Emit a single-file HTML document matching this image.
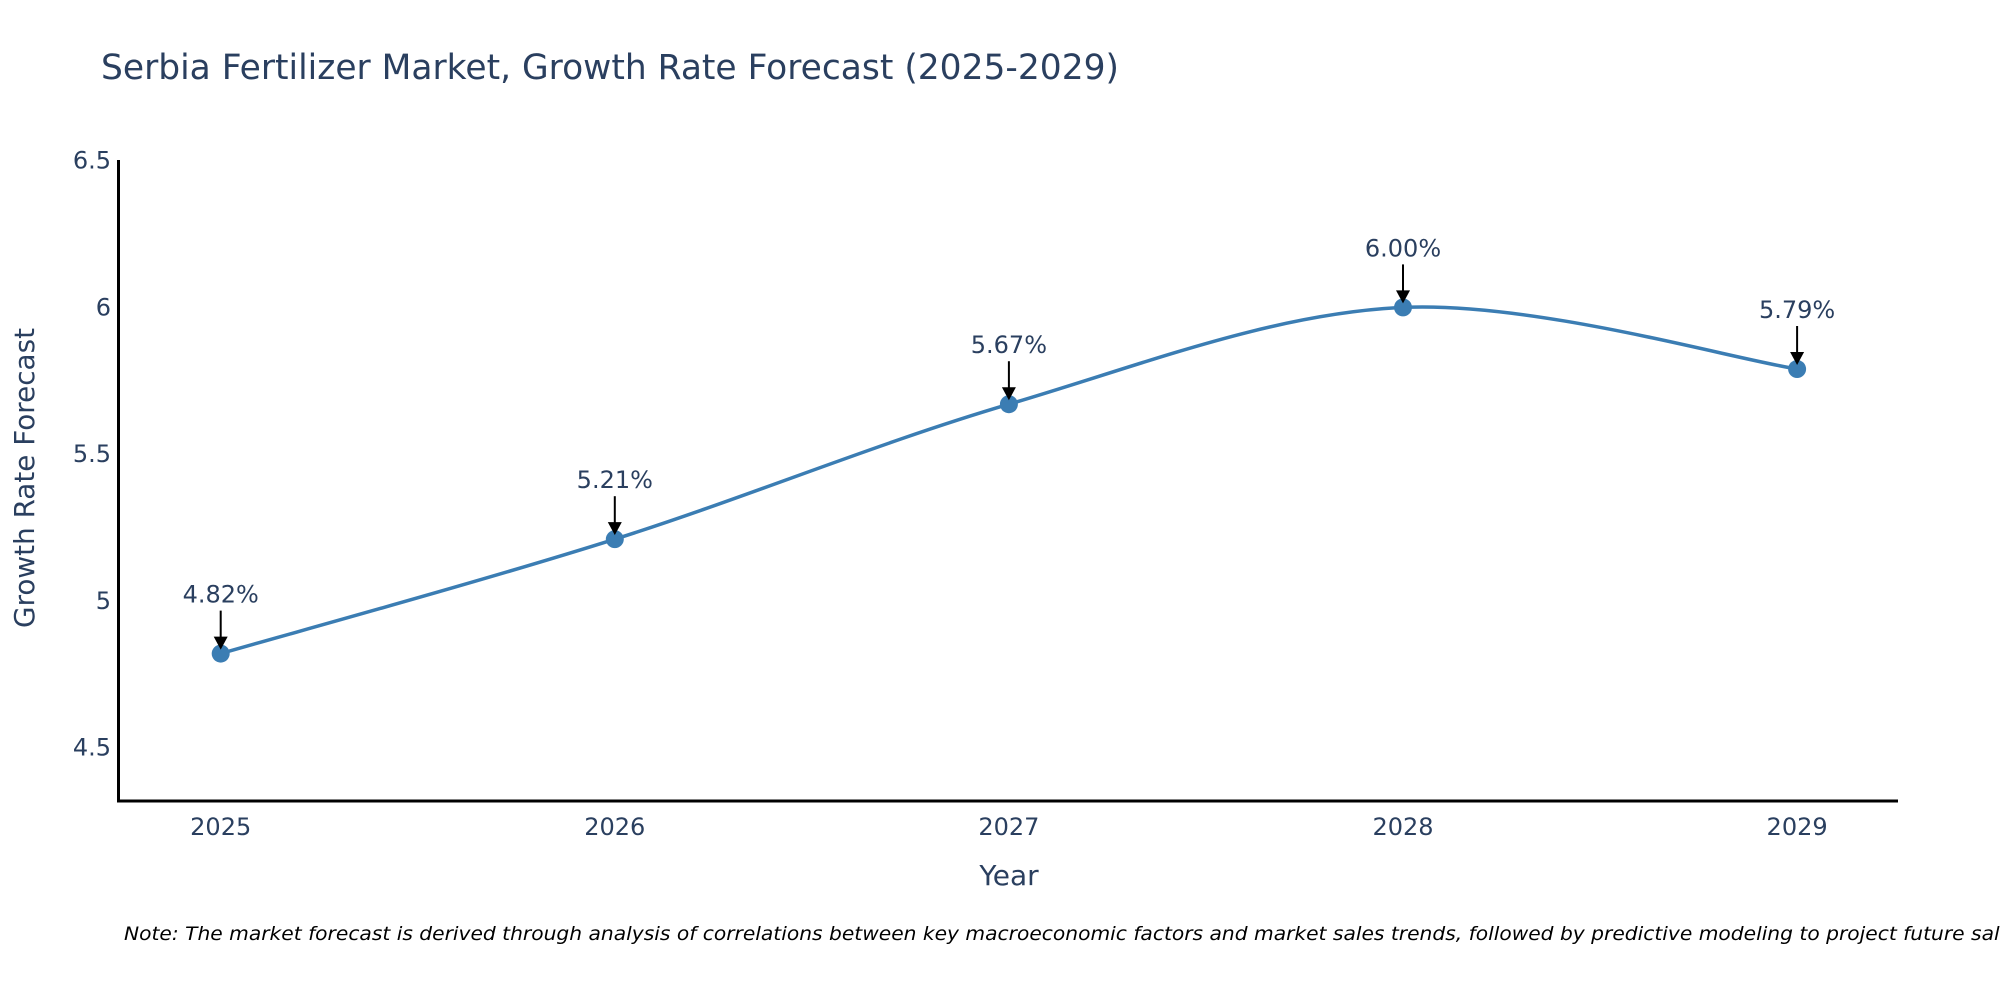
<!DOCTYPE html>
<html><head><meta charset="utf-8"><style>
html,body{margin:0;padding:0;background:#fff;}
svg{display:block;font-family:"DejaVu Sans","Liberation Sans",sans-serif;}
</style></head><body>
<svg id="chart" width="2000" height="1000" viewBox="0 0 2000 1000">
<text x="101" y="79" font-size="35" fill="#2a3f5f" textLength="1018" lengthAdjust="spacingAndGlyphs">Serbia Fertilizer Market, Growth Rate Forecast (2025-2029)</text>
<g id="yticks"></g>
<g id="xticks"></g>
<line x1="118.5" y1="160" x2="118.5" y2="802" stroke="#000" stroke-width="3"/>
<line x1="117" y1="801" x2="1898" y2="801" stroke="#000" stroke-width="3"/>
<text transform="translate(34,478) rotate(-90)" text-anchor="middle" font-size="28" fill="#2a3f5f" textLength="300" lengthAdjust="spacingAndGlyphs">Growth Rate Forecast</text>
<text x="1009" y="885" text-anchor="middle" font-size="28" fill="#2a3f5f">Year</text>
<g id="series"></g>
<g id="annos"></g>
<text x="124" y="940" font-size="19" font-style="italic" fill="#000" textLength="1905" lengthAdjust="spacingAndGlyphs">Note: The market forecast is derived through analysis of correlations between key macroeconomic factors and market sales trends, followed by predictive modeling to project future sales.</text>
</svg>
<script>
const years = ["2025","2026","2027","2028","2029"];
const values = [4.82, 5.21, 5.67, 6.00, 5.79];
const valueLabels = ["4.82%","5.21%","5.67%","6.00%","5.79%"];
const yTickValues = [4.5, 5, 5.5, 6, 6.5];
const yTickLabels = ["4.5","5","5.5","6","6.5"];

const NS = "http://www.w3.org/2000/svg";
const xScale = i => 220.7 + i * 394.1;
const yScale = v => 160.7 + (6.5 - v) * 293.4;
function mk(tag, attrs, parent){const e=document.createElementNS(NS,tag);for(const k in attrs)e.setAttribute(k,attrs[k]);parent.appendChild(e);return e;}

const yt = document.getElementById('yticks');
yTickValues.forEach((v,i)=>{
  const t = mk('text',{x:111,y:yScale(v)+8,'text-anchor':'end','font-size':24,fill:'#2a3f5f'},yt);
  
  
  t.textContent = yTickLabels[i];
});
const xt = document.getElementById('xticks');
years.forEach((y,i)=>{
  const t = mk('text',{x:xScale(i),y:835,'text-anchor':'middle','font-size':24,fill:'#2a3f5f'},xt);
  
  
  t.textContent = y;
});

const pts = values.map((v,i)=>[xScale(i), yScale(v)]);
let d = `M${pts[0][0]},${pts[0][1]}`;
for(let i=0;i<pts.length-1;i++){
  const p0=pts[Math.max(0,i-1)], p1=pts[i], p2=pts[i+1], p3=pts[Math.min(pts.length-1,i+2)];
  const c1=[p1[0]+(p2[0]-p0[0])/6, p1[1]+(p2[1]-p0[1])/6];
  const c2=[p2[0]-(p3[0]-p1[0])/6, p2[1]-(p3[1]-p1[1])/6];
  d += ` C${c1[0]},${c1[1]} ${c2[0]},${c2[1]} ${p2[0]},${p2[1]}`;
}
const s = document.getElementById('series');
const line = mk('path',{d:d,fill:'none',stroke:'#3b7db3','stroke-width':3.5},s);


pts.forEach((p,i)=>{
  const c = mk('circle',{cx:p[0],cy:p[1],r:9,fill:'#3b7db3'},s);
  
  
});

const a = document.getElementById('annos');
pts.forEach((p,i)=>{
  const l = mk('line',{x1:p[0],y1:p[1]-43,x2:p[0],y2:p[1]-14,stroke:'#000','stroke-width':2},a);
  
  
  const h = mk('polygon',{points:`${p[0]-7},${p[1]-17} ${p[0]+7},${p[1]-17} ${p[0]},${p[1]-4}`,fill:'#000'},a);
  
  
  const t = mk('text',{x:p[0],y:p[1]-51,'text-anchor':'middle','font-size':24,fill:'#2a3f5f'},a);
  
  
  t.textContent = valueLabels[i];
});
</script>
</body></html>
